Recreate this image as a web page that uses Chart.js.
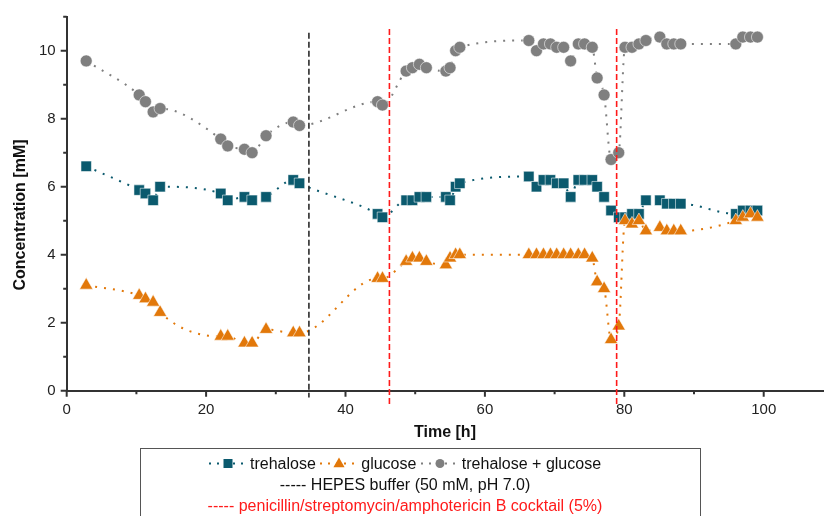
<!DOCTYPE html>
<html>
<head>
<meta charset="utf-8">
<title>Trehalose and glucose concentration</title>
<script src="https://cdn.jsdelivr.net/npm/chart.js@4.4.1/dist/chart.umd.min.js"></script>
<style>
  html, body { margin: 0; padding: 0; background: #fff; }
  #wrap { position: relative; width: 832px; height: 516px; overflow: hidden; }
  #concChart { position: absolute; left: 0; top: 0; }
  .legend {
    position: absolute; left: 140px; top: 448px; width: 561px; height: 100px;
    box-sizing: border-box; border: 1.5px solid #555;
    font-family: 'Liberation Sans', Arial, sans-serif; font-size: 16px; color: #111;
  }
  .legend .row {
    position: absolute; left: 0; right: 31px; height: 20px; line-height: 20px;
    text-align: center; white-space: nowrap;
  }
  .legend svg { vertical-align: middle; margin: 0 3px 2px 0; }
</style>
</head>
<body>
<div id="wrap">
  <canvas id="concChart" width="832" height="516"></canvas>
  <div class="legend">
    <div class="row" style="top:4.5px">
      <svg width="38" height="15"><line x1="0" y1="7.5" x2="38" y2="7.5" stroke="#0b5a6e" stroke-width="2" stroke-dasharray="2 6"/><rect x="14.5" y="3" width="9" height="9" fill="#0b5a6e"/></svg>trehalose
      <svg width="38" height="15"><line x1="0" y1="7.5" x2="38" y2="7.5" stroke="#e2780a" stroke-width="2" stroke-dasharray="2 6"/><polygon points="19,1.5 13.4,11.3 24.6,11.3" fill="#e2780a"/></svg>glucose
      <svg width="38" height="15"><line x1="0" y1="7.5" x2="38" y2="7.5" stroke="#7f7f7f" stroke-width="2" stroke-dasharray="2 6"/><circle cx="19" cy="7.5" r="4.5" fill="#7f7f7f"/></svg>trehalose + glucose
    </div>
    <div class="row" style="top:25.5px">----- HEPES buffer (50 mM, pH 7.0)</div>
    <div class="row" style="top:46.5px; color:#ff1a1a">----- penicillin/streptomycin/amphotericin B cocktail (5%)</div>
  </div>
</div>
<script>
Chart.defaults.font.family = "'Liberation Sans', Arial, sans-serif";
Chart.defaults.color = '#222';

// sampling times [h], shared by all three series
const times = [
    2.8, 10.4, 11.3, 12.4, 13.4, 22.1, 23.1, 25.5, 26.6, 28.6, 32.5, 33.4,
    44.6, 45.3, 48.7, 49.6, 50.6, 51.6, 54.4, 55.0, 55.8, 56.4,
    66.3, 67.4, 68.4, 69.4, 70.3, 71.3, 72.3, 73.4, 74.3, 75.4, 76.1, 77.1, 78.1, 79.2,
    80.1, 81.1, 82.1, 83.1, 85.1, 86.1, 87.1, 88.1,
    96.0, 97.0, 98.1, 99.1
];

// concentrations [mM]
const trehalose = [
    6.6, 5.9, 5.8, 5.6, 6.0, 5.8, 5.6, 5.7, 5.6, 5.7, 6.2, 6.1,
    5.2, 5.1, 5.6, 5.6, 5.7, 5.7, 5.7, 5.6, 6.0, 6.1,
    6.3, 6.0, 6.2, 6.2, 6.1, 6.1, 5.7, 6.2, 6.2, 6.2, 6.0, 5.7, 5.3, 5.1,
    5.1, 5.2, 5.2, 5.6, 5.6, 5.5, 5.5, 5.5,
    5.2, 5.3, 5.3, 5.3
];
const glucose = [
    3.1, 2.8, 2.7, 2.6, 2.3, 1.6, 1.6, 1.4, 1.4, 1.8, 1.7, 1.7,
    3.3, 3.3, 3.8, 3.9, 3.9, 3.8, 3.7, 3.9, 4.0, 4.0,
    4.0, 4.0, 4.0, 4.0, 4.0, 4.0, 4.0, 4.0, 4.0, 3.9, 3.2, 3.0, 1.5, 1.9,
    5.0, 4.9, 5.0, 4.7, 4.8, 4.7, 4.7, 4.7,
    5.0, 5.1, 5.2, 5.1
];
const total = [
    9.7, 8.7, 8.5, 8.2, 8.3, 7.4, 7.2, 7.1, 7.0, 7.5, 7.9, 7.8,
    8.5, 8.4, 9.4, 9.5, 9.6, 9.5, 9.4, 9.5, 10.0, 10.1,
    10.3, 10.0, 10.2, 10.2, 10.1, 10.1, 9.7, 10.2, 10.2, 10.1, 9.2, 8.7, 6.8, 7.0,
    10.1, 10.1, 10.2, 10.3, 10.4, 10.2, 10.2, 10.2,
    10.2, 10.4, 10.4, 10.4
];

// times of additions [h]
const hepesAdded = [34.75];
const cocktailAdded = [46.3, 78.9];

// axis ticks
const xMajor = [0, 20, 40, 60, 80, 100];
const xMinor = [10, 30, 50, 70, 90];
const yMajor = [0, 2, 4, 6, 8, 10];
const yMinor = [1, 3, 5, 7, 9, 11];

const colors = {
    trehalose: '#0b5a6e',
    glucose: '#e2780a',
    total: '#7f7f7f',
    hepes: '#2b2b2b',
    cocktail: '#ff1a1a',
    axis: '#333'
};

function series(label, values, color, style, radius, order) {
    return {
        label: label,
        data: times.map((t, i) => ({ x: t, y: values[i] })),
        borderColor: color,
        borderWidth: 2,
        borderDash: [2, 7],
        cubicInterpolationMode: 'monotone',
        pointStyle: style,
        pointRadius: radius,
        pointBackgroundColor: color,
        pointBorderColor: 'rgba(255,255,255,0.55)',
        pointBorderWidth: 1,
        order: order
    };
}

// dashed vertical lines marking buffer / antibiotic additions
const additionLines = {
    id: 'additionLines',
    afterDatasetsDraw(chart) {
        const { ctx, scales: { x, y } } = chart;
        const groups = [
            { at: hepesAdded, color: colors.hepes, top: 10.53, bottom: -0.2 },
            { at: cocktailAdded, color: colors.cocktail, top: 10.64, bottom: -0.43 }
        ];
        ctx.save();
        ctx.lineWidth = 1.6;
        ctx.setLineDash([6, 3]);
        groups.forEach(g => {
            ctx.strokeStyle = g.color;
            g.at.forEach(t => {
                const px = x.getPixelForValue(t);
                ctx.beginPath();
                ctx.moveTo(px, y.getPixelForValue(g.top));
                ctx.lineTo(px, y.getPixelForValue(g.bottom));
                ctx.stroke();
            });
        });
        ctx.restore();
    }
};

// outward tick marks, long for labelled values and short for the rest
const axisTicks = {
    id: 'axisTicks',
    afterDraw(chart) {
        const { ctx, scales: { x, y } } = chart;
        const x0 = chart.chartArea.left;
        const y0 = chart.chartArea.bottom;
        ctx.save();
        ctx.strokeStyle = colors.axis;
        ctx.lineWidth = 2;
        ctx.beginPath();
        xMajor.forEach(v => { const p = x.getPixelForValue(v); ctx.moveTo(p, y0); ctx.lineTo(p, y0 + 6); });
        xMinor.forEach(v => { const p = x.getPixelForValue(v); ctx.moveTo(p, y0); ctx.lineTo(p, y0 + 3.5); });
        yMajor.forEach(v => { const p = y.getPixelForValue(v); ctx.moveTo(x0, p); ctx.lineTo(x0 - 6, p); });
        yMinor.forEach(v => { const p = y.getPixelForValue(v); ctx.moveTo(x0, p); ctx.lineTo(x0 - 3.5, p); });
        ctx.stroke();

        ctx.fillStyle = '#111';
        ctx.font = "bold 16px 'Liberation Sans', Arial, sans-serif";
        ctx.textAlign = 'center';
        ctx.textBaseline = 'middle';
        ctx.translate(20.5, 215);
        ctx.rotate(-Math.PI / 2);
        ctx.fillText('Concentration [mM]', 0, 0);
        ctx.restore();
    }
};

const ctx = document.getElementById('concChart').getContext('2d');
new Chart(ctx, {
    type: 'line',
    data: {
        datasets: [
            series('trehalose', trehalose, colors.trehalose, 'rect', 7.4, 3),
            series('glucose', glucose, colors.glucose, 'triangle', 7.7, 2),
            series('trehalose + glucose', total, colors.total, 'circle', 6.0, 1)
        ]
    },
    options: {
        responsive: false,
        animation: false,
        devicePixelRatio: 1,
        layout: { padding: { top: 16.7, left: 0, right: 0, bottom: 68 } },
        plugins: {
            legend: { display: false },
            tooltip: { enabled: false }
        },
        scales: {
            x: {
                type: 'linear',
                min: 0,
                max: 108.55,
                afterFit: scale => { scale.height = 57.3; },
                afterBuildTicks: scale => {
                    scale.ticks = xMajor.concat(xMinor).sort((a, b) => a - b).map(v => ({ value: v }));
                },
                ticks: {
                    autoSkip: false,
                    maxRotation: 0,
                    padding: 4,
                    font: { size: 15 },
                    color: '#222',
                    callback: v => xMajor.includes(v) ? String(v) : ''
                },
                grid: { drawOnChartArea: false, drawTicks: true, tickLength: 6, tickColor: 'rgba(0,0,0,0)' },
                border: { display: true, color: colors.axis, width: 2 },
                title: {
                    display: true,
                    text: 'Time [h]',
                    color: '#111',
                    font: { size: 16, weight: 'bold' },
                    padding: { top: 0, bottom: 6 }
                }
            },
            y: {
                type: 'linear',
                min: 0,
                max: 11,
                afterFit: scale => { scale.width = 66.7; },
                afterBuildTicks: scale => {
                    scale.ticks = yMajor.concat(yMinor).sort((a, b) => a - b).map(v => ({ value: v }));
                },
                ticks: {
                    autoSkip: false,
                    padding: 5,
                    font: { size: 15 },
                    color: '#222',
                    callback: v => yMajor.includes(v) ? String(v) : ''
                },
                grid: { drawOnChartArea: false, drawTicks: true, tickLength: 6, tickColor: 'rgba(0,0,0,0)' },
                border: { display: true, color: colors.axis, width: 2 }
            }
        }
    },
    plugins: [additionLines, axisTicks]
});
</script>
</body>
</html>
